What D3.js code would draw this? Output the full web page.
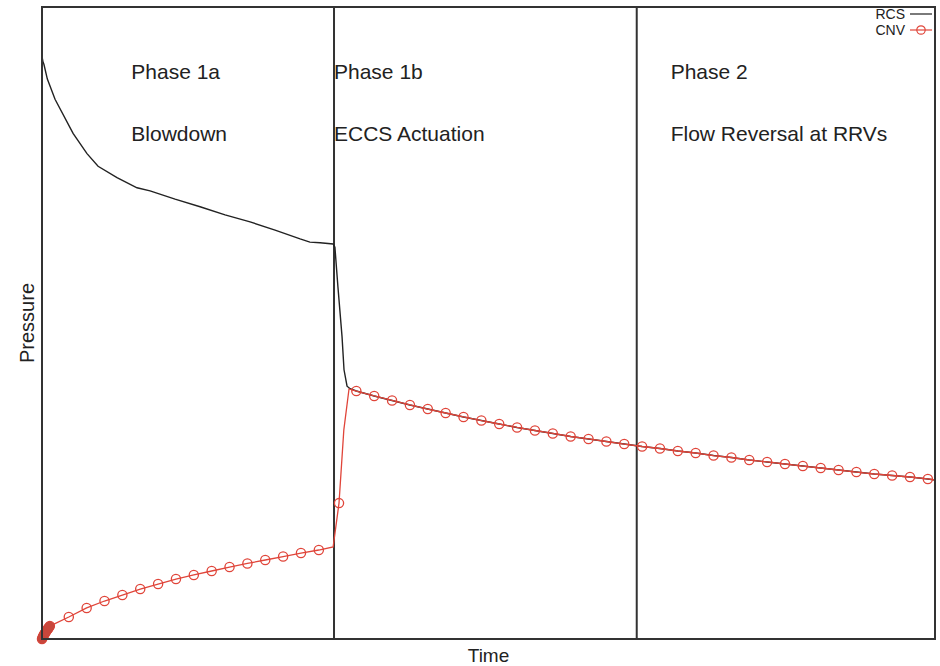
<!DOCTYPE html>
<html><head><meta charset="utf-8">
<script src="https://cdn.jsdelivr.net/npm/d3@7"></script>
<style>body{margin:0;background:#fff}svg{display:block}text{font-family:"Liberation Sans",Arial,sans-serif;fill:#222}</style>
</head><body>
<svg id="c" width="940" height="666"></svg>
<script>
// ---- data (time in arbitrary units, pressure normalized 0-100) ----
const phaseLines = [16.35, 33.3];
const phaseNames = ["Phase 1a", "Phase 1b", "Phase 2"];
const phaseEvents = ["Blowdown", "ECCS Actuation", "Flow Reversal at RRVs"];
const phaseLabelT = [5.0, 16.35, 35.2];

// RCS pressure before the two volumes equalize
const rcsTime = [0, 0.05, 0.11, 0.3, 0.73, 1.74, 2.52, 3.14, 4.2, 5.32, 6.05, 7.45, 8.85, 10.25, 11.65, 13.05, 14.45, 15.0, 15.57, 16.3, 16.4, 16.57, 16.8, 16.91, 17.08, 17.25];
const rcsPres = [92.2, 91.4, 90.9, 88.6, 85.4, 80.0, 76.8, 74.8, 73.0, 71.4, 70.9, 69.6, 68.4, 67.1, 66.0, 64.7, 63.3, 62.8, 62.7, 62.5, 62.0, 55.7, 47.8, 42.6, 40.0, 39.6];

// CNV pressure: early cluster, phase 1a, jump, phase 1b/2
const cnvEarlyTime = [0, 0.03, 0.06, 0.09, 0.12, 0.15, 0.18, 0.21, 0.24, 0.27, 0.3, 0.33, 0.36, 0.4, 0.44];
const cnvEarlyPres = [0, 0.2, 0.4, 0.55, 0.7, 0.85, 1.0, 1.1, 1.25, 1.4, 1.5, 1.6, 1.75, 1.9, 2.05];
const cnvA_Time = [1.5, 2.5, 3.5, 4.5, 5.5, 6.5, 7.5, 8.5, 9.5, 10.5, 11.5, 12.5, 13.5, 14.5, 15.5];
const cnvA_Pres = [3.48, 4.91, 6.01, 6.96, 7.91, 8.70, 9.49, 10.13, 10.76, 11.39, 11.95, 12.5, 13.05, 13.6, 14.08];
const cnvJumpTime = [16.3, 16.63, 16.9, 17.19];
const cnvJumpPres = [14.56, 21.5, 33.1, 39.56];
const cnvJumpMarker = [false, true, false, false];
const cnvB_Time = [17.6, 18.6, 19.6, 20.6, 21.6, 22.6, 23.6, 24.6, 25.6, 26.6, 27.6, 28.6, 29.6, 30.6, 31.6, 32.6, 33.6, 34.6, 35.6, 36.6, 37.6, 38.6, 39.6, 40.6, 41.6, 42.6, 43.6, 44.6, 45.6, 46.6, 47.6, 48.6, 49.6];
const cnvB_Pres = [39.24, 38.45, 37.74, 37.03, 36.39, 35.76, 35.13, 34.57, 34.02, 33.47, 32.99, 32.52, 32.04, 31.65, 31.25, 30.85, 30.46, 30.14, 29.75, 29.43, 29.03, 28.72, 28.32, 28.01, 27.69, 27.37, 27.06, 26.74, 26.42, 26.11, 25.87, 25.63, 25.32];
const endTime = 50, endPres = 25.16;

// ---- build ----
const svg = d3.select("#c");
const m = {l: 42, r: 935, t: 7, b: 639};
const x = d3.scaleLinear().domain([0, 50]).range([m.l, m.r]);
const y = d3.scaleLinear().domain([0, 100]).range([m.b, m.t]);
const red = "#e0453a";

const zip = (t, p, mk) => t.map((d, i) => ({t: d, p: p[i], mk: mk ? mk[i] : true}));
const cnvB = zip(cnvB_Time, cnvB_Pres);
const early = zip(cnvEarlyTime, cnvEarlyPres);
const cnv = [].concat(early, zip(cnvA_Time, cnvA_Pres), zip(cnvJumpTime, cnvJumpPres, cnvJumpMarker), cnvB, [{t: endTime, p: endPres, mk: false}]);
const rcs = zip(rcsTime, rcsPres).concat(cnvB, [{t: endTime, p: endPres}]);

const line = d3.line().x(d => x(d.t)).y(d => y(d.p));

// phase lines
svg.selectAll("line.ph").data(phaseLines).join("line")
  .attr("x1", d => x(d)).attr("x2", d => x(d)).attr("y1", m.t).attr("y2", m.b)
  .attr("stroke", "#333").attr("stroke-width", 2);

svg.append("path").datum(rcs).attr("d", line).attr("fill", "none").attr("stroke", "#222").attr("stroke-width", 1.4);
svg.append("path").datum(cnv).attr("d", line).attr("fill", "none").attr("stroke", red).attr("stroke-width", 1.3);
svg.selectAll("circle.cnv").data(cnv.filter(d => d.mk)).join("circle")
  .attr("cx", d => x(d.t)).attr("cy", d => y(d.p)).attr("r", 4.6)
  .attr("fill", "none").attr("stroke", red).attr("stroke-width", 1.3);
// dense early cluster looks solid
svg.selectAll("circle.early").data(early).join("circle")
  .attr("cx", d => x(d.t)).attr("cy", d => y(d.p)).attr("r", 4.2)
  .attr("fill", "#c8473c").attr("stroke", "#c8473c").attr("stroke-width", 1);

// frame
svg.append("rect").attr("x", m.l).attr("y", m.t).attr("width", m.r - m.l).attr("height", m.b - m.t)
  .attr("fill", "none").attr("stroke", "#333").attr("stroke-width", 2);

// phase labels
phaseNames.forEach((n, i) => {
  svg.append("text").attr("x", x(phaseLabelT[i])).attr("y", 79).attr("font-size", 21).text(n);
  svg.append("text").attr("x", x(phaseLabelT[i])).attr("y", 141).attr("font-size", 21).text(phaseEvents[i]);
});

// axis titles
svg.append("text").attr("x", (m.l + m.r) / 2).attr("y", 662).attr("text-anchor", "middle").attr("font-size", 19).text("Time");
svg.append("text").attr("transform", "translate(34,323) rotate(-90)").attr("text-anchor", "middle").attr("font-size", 20).text("Pressure");

// legend
const lg = svg.append("g");
lg.append("text").attr("x", 905).attr("y", 19).attr("text-anchor", "end").attr("font-size", 14).text("RCS");
lg.append("text").attr("x", 905).attr("y", 35).attr("text-anchor", "end").attr("font-size", 14).text("CNV");
lg.append("line").attr("x1", 910).attr("x2", 932).attr("y1", 14).attr("y2", 14).attr("stroke", "#222").attr("stroke-width", 1.2);
lg.append("line").attr("x1", 910).attr("x2", 932).attr("y1", 30).attr("y2", 30).attr("stroke", red).attr("stroke-width", 1.2);
lg.append("circle").attr("cx", 921).attr("cy", 30).attr("r", 4.2).attr("fill", "none").attr("stroke", red).attr("stroke-width", 1.2);
</script>
</body></html>
